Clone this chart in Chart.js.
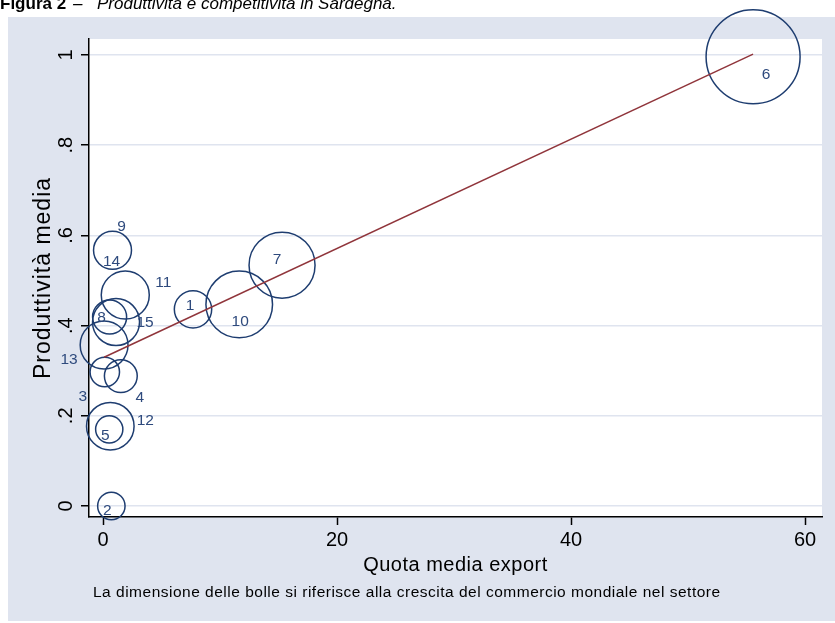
<!DOCTYPE html>
<html>
<head>
<meta charset="utf-8">
<title>Produttività e competitività in Sardegna</title>
<script src="https://cdn.jsdelivr.net/npm/chart.js@4.4.1/dist/chart.umd.min.js"></script>
<style>
  html, body { margin: 0; padding: 0; background: #fff; }
  #wrap { position: relative; width: 835px; height: 623px; }
</style>
</head>
<body>
<div id="wrap"><canvas id="bubbleChart" width="835" height="623"></canvas></div>
<script>
// Settori
const settori = ['1', '2', '3', '4', '5', '6', '7', '8', '9', '10', '11', '12', '13', '14', '15'];
// Quota media export
const quotaExport = [7.69, 0.71, 0.15, 1.52, 0.53, 55.56, 15.30, 0.56, 0.81, 11.64, 1.90, 0.62, 0.09, 0.81, 1.11];
// Produttività media
const produttivita = [0.436, 0.000, 0.297, 0.288, 0.170, 0.996, 0.534, 0.419, 0.567, 0.447, 0.468, 0.177, 0.357, 0.567, 0.408];
// Crescita del commercio mondiale nel settore (dimensione delle bolle)
const crescita = [1.58, 0.85, 0.98, 1.22, 0.84, 10.0, 4.93, 1.31, 1.63, 5.02, 2.61, 2.56, 2.59, 0, 2.50];

const xTicks = [0, 20, 40, 60];
const yTicks = [0, 0.2, 0.4, 0.6, 0.8, 1];
const yTickLabels = ['0', '.2', '.4', '.6', '.8', '1'];

// label placement around each bubble (px)
const labelOffsets = [
    [-3, -4], [-4, 5], [-22, 25], [19, 22], [-4, 6], [13, 18], [-5, -5], [-8, 1],
    [9, -24], [1, 17], [38, -12], [35, -5], [-35, 15], [-1, 11], [29, 1]
];

const NAVY = '#1e3d70';
const LABEL_NAVY = '#2e4a7d';
const MAROON = '#90353b';
const PANEL = '#dfe4ef';
const FONT = '"Liberation Sans", Arial, Helvetica, sans-serif';
const MAX_RADIUS = 47;

// bubble area proportional to growth
const maxCrescita = Math.max(...crescita);
const bubbles = quotaExport.map((x, i) => ({
    x: x,
    y: produttivita[i],
    r: MAX_RADIUS * Math.sqrt(crescita[i] / maxCrescita)
}));

// linear fit (OLS) of produttività on quota export
function linearFit(xs, ys) {
    const n = xs.length;
    const mx = xs.reduce((a, b) => a + b, 0) / n;
    const my = ys.reduce((a, b) => a + b, 0) / n;
    let sxy = 0, sxx = 0;
    for (let i = 0; i < n; i++) {
        sxy += (xs[i] - mx) * (ys[i] - my);
        sxx += (xs[i] - mx) * (xs[i] - mx);
    }
    const slope = sxy / sxx;
    return { slope: slope, intercept: my - slope * mx };
}
const fit = linearFit(quotaExport, produttivita);
const xMin = Math.min(...quotaExport);
const xMax = Math.max(...quotaExport);
const fitLine = [
    { x: xMin, y: fit.intercept + fit.slope * xMin },
    { x: xMax, y: fit.intercept + fit.slope * xMax }
];

// background: white page, bluish-gray graph region, white plot region
const panelPlugin = {
    id: 'panel',
    beforeDraw(chart) {
        const ctx = chart.ctx;
        const a = chart.chartArea;
        ctx.save();
        ctx.fillStyle = '#ffffff';
        ctx.fillRect(0, 0, chart.width, chart.height);
        ctx.fillStyle = PANEL;
        ctx.fillRect(8, 17, chart.width - 8, 604);
        ctx.fillStyle = '#ffffff';
        ctx.fillRect(a.left, a.top, a.right - a.left, a.bottom - a.top);
        ctx.restore();
    }
};

// titles, rotated y tick labels, bubble labels, note
const textPlugin = {
    id: 'texts',
    afterDraw(chart) {
        const ctx = chart.ctx;
        const a = chart.chartArea;
        const ys = chart.scales.y;
        ctx.save();
        ctx.fillStyle = '#000';

        // figure caption
        ctx.textAlign = 'left';
        ctx.textBaseline = 'alphabetic';
        ctx.font = 'bold 17px ' + FONT;
        ctx.fillText('Figura 2', 0, 9);
        ctx.font = 'italic 17px ' + FONT;
        ctx.fillText('–', 73, 9);
        ctx.fillText('Produttività e competitività in Sardegna.', 97, 9);

        // y tick labels, rotated
        ctx.font = '20px ' + FONT;
        ctx.textAlign = 'center';
        yTicks.forEach((v, i) => {
            ctx.save();
            ctx.translate(a.left - 17, ys.getPixelForValue(v));
            ctx.rotate(-Math.PI / 2);
            ctx.fillText(yTickLabels[i], 0, 0);
            ctx.restore();
        });

        // y axis title
        ctx.save();
        ctx.font = '23px ' + FONT;
        ctx.letterSpacing = '1px';
        ctx.translate(50, (a.top + a.bottom) / 2);
        ctx.rotate(-Math.PI / 2);
        ctx.fillText('Produttività media', 0, 0);
        ctx.restore();

        // x axis title
        ctx.save();
        ctx.font = '20px ' + FONT;
        ctx.letterSpacing = '0.5px';
        ctx.textBaseline = 'middle';
        ctx.fillText('Quota media export', (a.left + a.right) / 2, 565);
        ctx.restore();

        // note
        ctx.save();
        ctx.font = '15.5px ' + FONT;
        ctx.letterSpacing = '0.5px';
        ctx.textAlign = 'left';
        ctx.textBaseline = 'middle';
        ctx.fillText('La dimensione delle bolle si riferisce alla crescita del commercio mondiale nel settore', 93, 593);
        ctx.restore();

        // bubble labels
        const meta = chart.getDatasetMeta(1);
        ctx.font = '15.5px ' + FONT;
        ctx.fillStyle = LABEL_NAVY;
        ctx.textAlign = 'center';
        ctx.textBaseline = 'middle';
        meta.data.forEach((pt, i) => {
            ctx.fillText(settori[i], pt.x + labelOffsets[i][0], pt.y + labelOffsets[i][1]);
        });

        ctx.restore();
    }
};

document.addEventListener('DOMContentLoaded', function() {
    const ctx = document.getElementById('bubbleChart');
    new Chart(ctx, {
        type: 'bubble',
        data: {
            datasets: [{
                type: 'line',
                label: 'Fitted values',
                data: fitLine,
                borderColor: MAROON,
                borderWidth: 1.5,
                pointRadius: 0,
                fill: false,
                order: 0
            }, {
                type: 'bubble',
                label: 'Produttività media',
                data: bubbles,
                backgroundColor: 'rgba(0,0,0,0)',
                borderColor: NAVY,
                borderWidth: 1.5,
                hoverRadius: 0,
                clip: false,
                order: 1
            }]
        },
        options: {
            responsive: false,
            animation: false,
            events: [],
            layout: {
                autoPadding: false,
                padding: { left: 0, right: 13, top: 39, bottom: 0 }
            },
            plugins: {
                legend: { display: false },
                tooltip: { enabled: false }
            },
            scales: {
                x: {
                    type: 'linear',
                    min: -1.2,
                    max: 61.45,
                    afterBuildTicks: function(scale) {
                        scale.ticks = xTicks.map(v => ({ value: v }));
                    },
                    afterFit: function(scale) { scale.height = 106; },
                    grid: { drawOnChartArea: false, tickLength: 8, tickColor: '#000', tickWidth: 1.5 },
                    border: { color: '#000', width: 1.5 },
                    ticks: { padding: 3, color: '#000', font: { family: FONT, size: 20 }, maxRotation: 0 }
                },
                y: {
                    type: 'linear',
                    min: -0.0244,
                    max: 1.0355,
                    afterBuildTicks: function(scale) {
                        scale.ticks = yTicks.map(v => ({ value: v }));
                    },
                    afterFit: function(scale) { scale.width = 89; },
                    grid: { color: PANEL, lineWidth: 1.5, tickLength: 8, tickColor: '#000', tickWidth: 1.5 },
                    border: { color: '#000', width: 1.5 },
                    ticks: { display: false }
                }
            }
        },
        plugins: [panelPlugin, textPlugin]
    });
});
</script>
</body>
</html>
